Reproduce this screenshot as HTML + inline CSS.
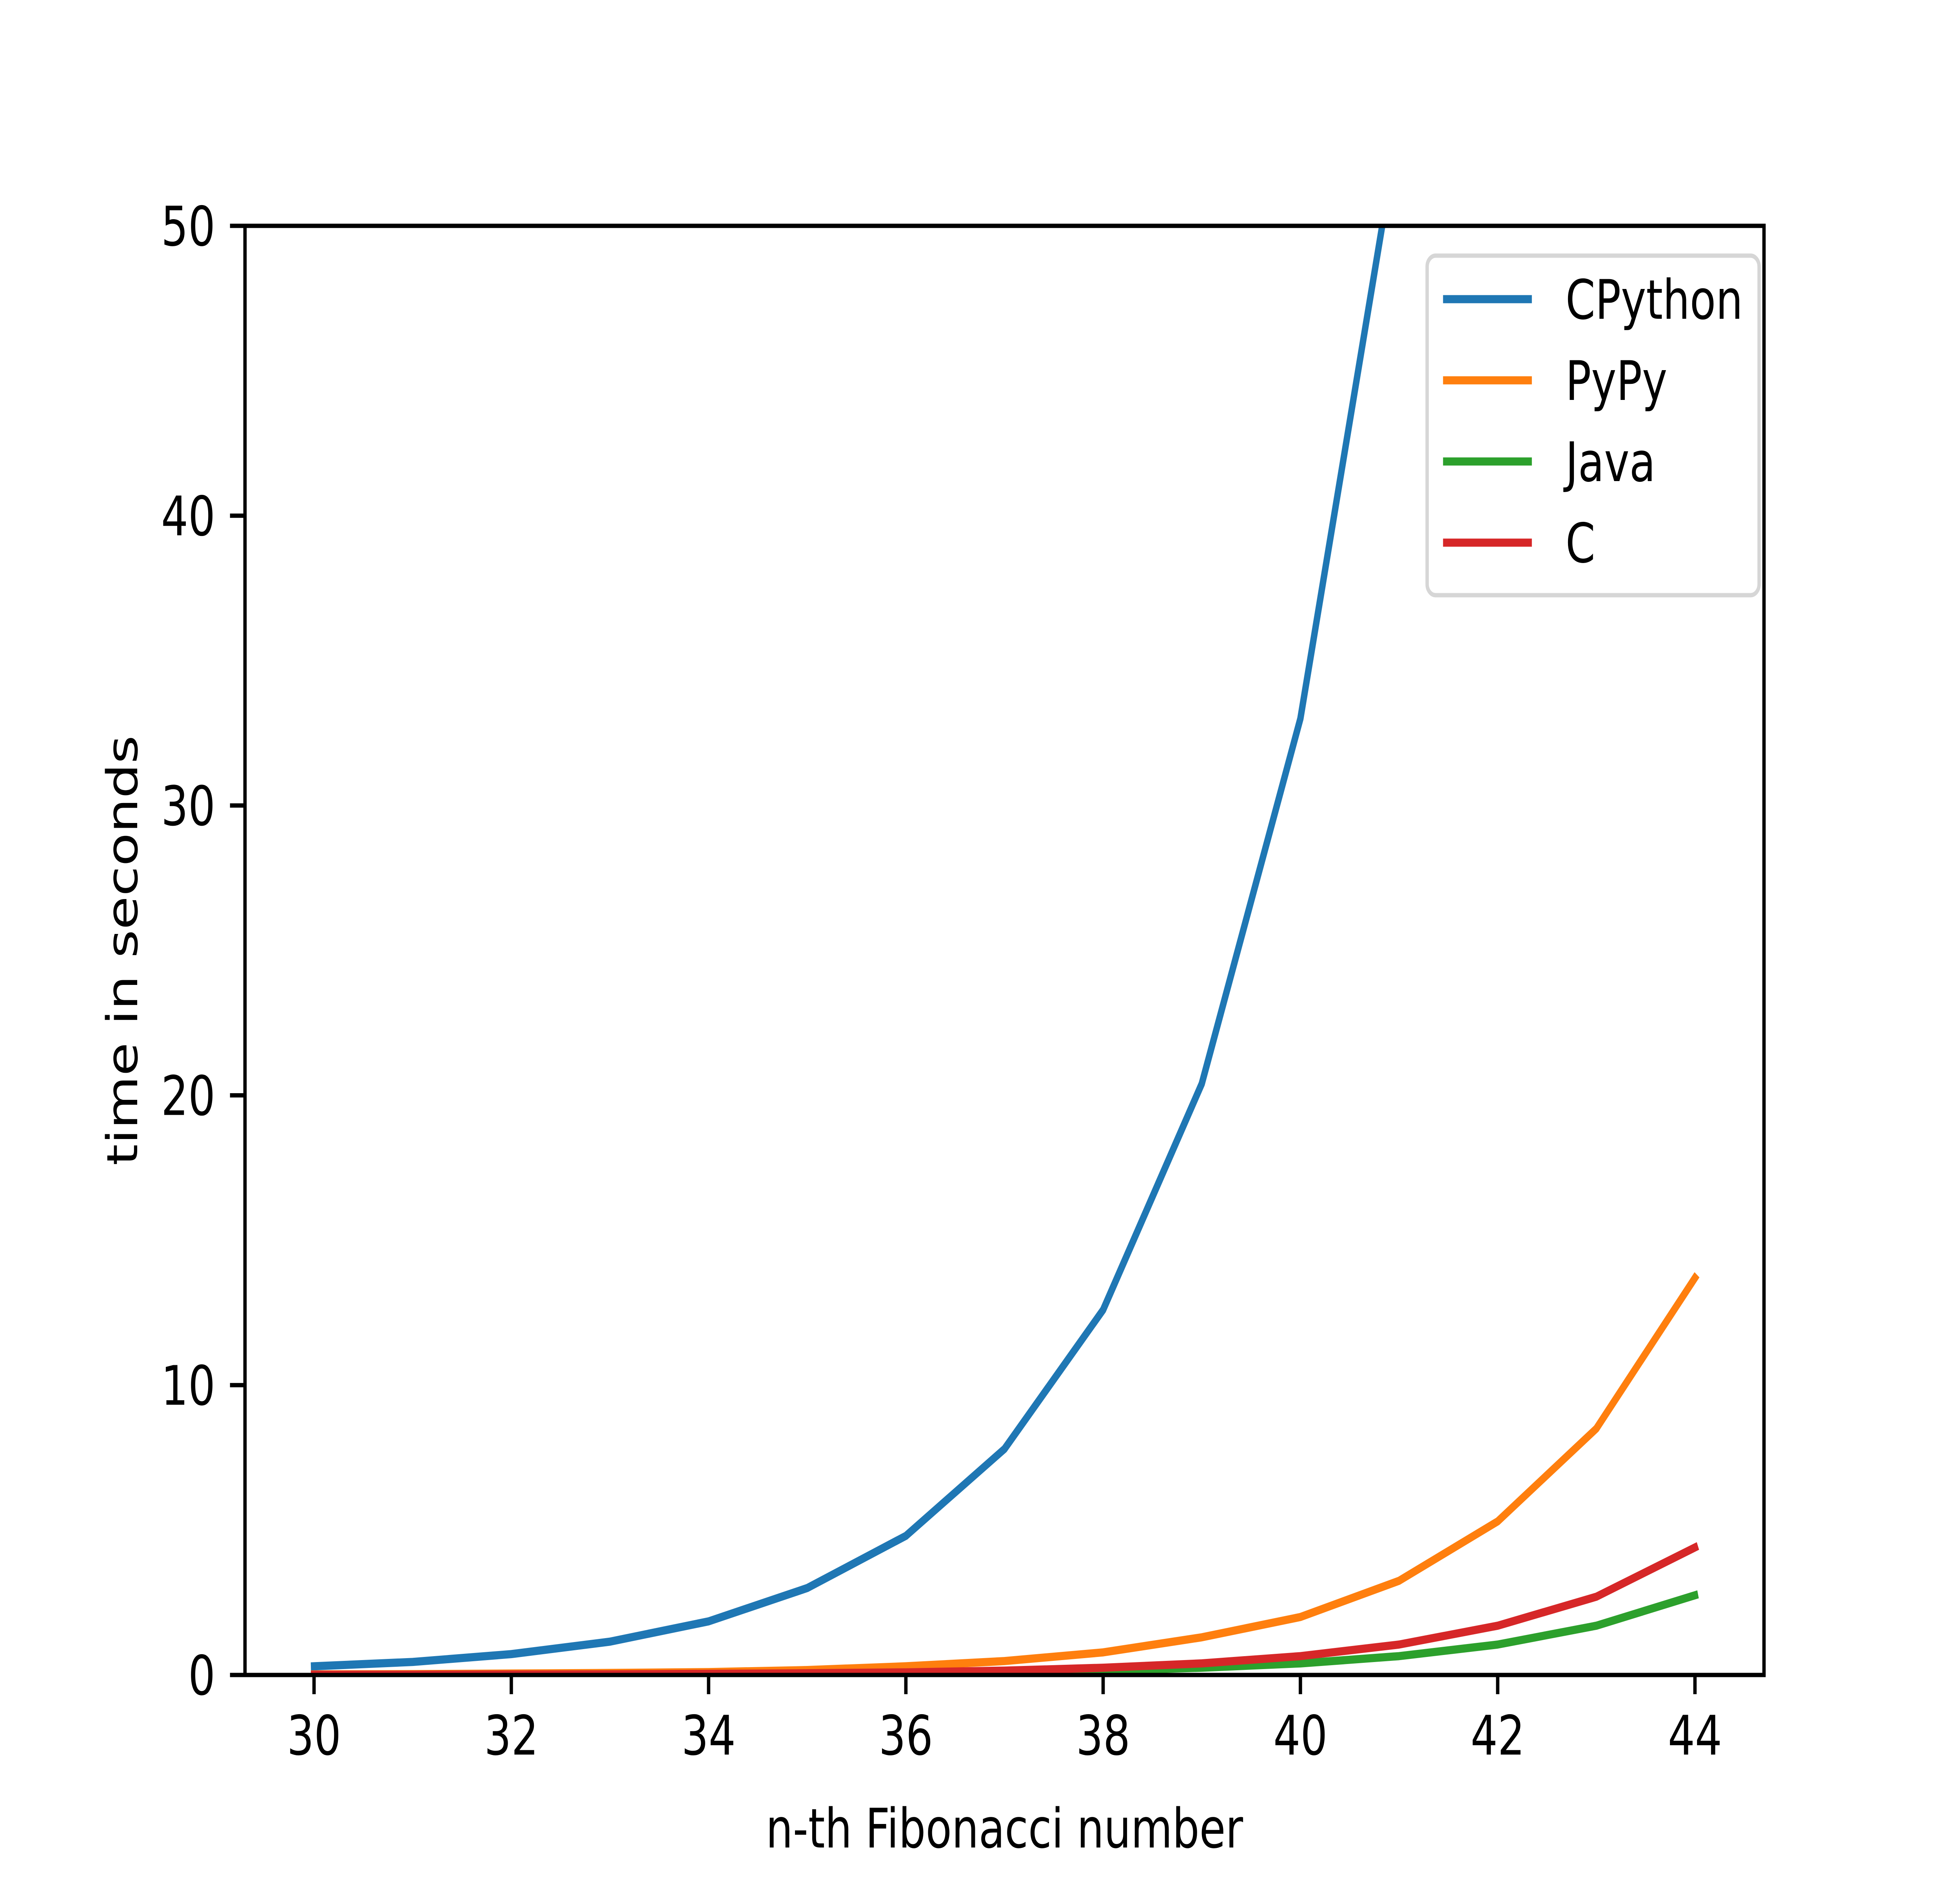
<!DOCTYPE html>
<html><head><meta charset="utf-8"><style>html,body{margin:0;padding:0;background:#fff;overflow:hidden}svg{display:block;width:100vw;height:100vh}text{font-family:"DejaVu Sans","Liberation Sans",sans-serif;fill:#000}</style></head>
<body>
<svg id="chart" viewBox="0 0 6400 4800" preserveAspectRatio="none" xmlns="http://www.w3.org/2000/svg">
<rect width="6400" height="4800" fill="#fff"/>
<defs><clipPath id="clip"><rect x="800" y="576" width="4960" height="3696"/></clipPath></defs>
<g id="plot" clip-path="url(#clip)"></g>
<g id="axes"></g>
<g id="legend"></g>
</svg>
<script>
const xs = [30,31,32,33,34,35,36,37,38,39,40,41,42,43,44];
const cpython = [0.3,0.45,0.72,1.15,1.85,3.0,4.8,7.8,12.6,20.4,33.0,53.5,86,140,226];
const pypy = [0.02,0.03,0.05,0.07,0.1,0.17,0.3,0.48,0.78,1.3,2.0,3.25,5.3,8.5,13.7];
const java = [0.005,0.008,0.012,0.02,0.03,0.04,0.06,0.1,0.15,0.25,0.4,0.65,1.05,1.7,2.75];
const cLang = [0.01,0.01,0.015,0.02,0.04,0.06,0.09,0.15,0.25,0.4,0.65,1.05,1.7,2.7,4.4];
const xTicks = [30,32,34,36,38,40,42,44];
const yTicks = [0,10,20,30,40,50];
const seriesNames = ["CPython","PyPy","Java","C"];
const colors = ["#1f77b4","#ff7f0e","#2ca02c","#d62728"];
const L=800,R=5760,T=576,B=4272,xmin=29.3,xmax=44.7,ymin=0,ymax=50;
const X=v=>L+(v-xmin)/(xmax-xmin)*(R-L);
const Y=v=>B-(v-ymin)/(ymax-ymin)*(B-T);
const NS="http://www.w3.org/2000/svg";
function mk(tag,attrs,parent){const e=document.createElementNS(NS,tag);for(const k in attrs)e.setAttribute(k,attrs[k]);parent.appendChild(e);return e;}
const plot=document.getElementById('plot'),axes=document.getElementById('axes'),leg=document.getElementById('legend');
const all=[cpython,pypy,java,cLang];
all.forEach((s,i)=>{
  const p=mk('polyline',{points:xs.map((x,j)=>X(x)+','+Y(s[j])).join(' '),fill:'none',stroke:colors[i],'stroke-width':20.8,'stroke-linejoin':'round','stroke-linecap':'square'},plot);
  
  
});
const fr=mk('rect',{x:L,y:T,width:R-L,height:B-T,fill:'none',stroke:'#000','stroke-width':11,'stroke-linejoin':'miter'},axes);


xTicks.forEach(t=>{
  const ln=mk('line',{x1:X(t),x2:X(t),y1:B,y2:B+49,stroke:'#000','stroke-width':11},axes);
  
  
  const tx=mk('text',{x:X(t),y:B+49+48+106,'text-anchor':'middle','font-size':139},axes);
  tx.textContent=t;
  
  
});
yTicks.forEach(t=>{
  const ln=mk('line',{x1:L-49,x2:L,y1:Y(t),y2:Y(t),stroke:'#000','stroke-width':11},axes);
  
  
  const tx=mk('text',{x:L-49-48,y:Y(t)+50,'text-anchor':'end','font-size':139},axes);
  tx.textContent=t;
  
  
});
const xl=mk('text',{x:(L+R)/2,y:4712,'text-anchor':'middle','font-size':139},axes);
xl.textContent='n-th Fibonacci number';


const yl=mk('text',{x:0,y:0,'text-anchor':'middle','font-size':139,transform:'translate(448,'+((T+B)/2)+') rotate(-90)'},axes);
yl.textContent='time in seconds';


const lb=mk('rect',{x:4660,y:652,width:1084,height:866,rx:28,fill:'#fff','fill-opacity':0.8,stroke:'#d6d6d6','stroke-width':11},leg);


seriesNames.forEach((n,i)=>{
  const cy=763+i*207;
  const ln=mk('line',{x1:4712,x2:5002,y1:cy,y2:cy,stroke:colors[i],'stroke-width':20.8},leg);
  
  
  const tx=mk('text',{x:5112,y:cy+50,'font-size':139},leg);
  tx.textContent=n;
  
  
});
</script>
</body></html>
